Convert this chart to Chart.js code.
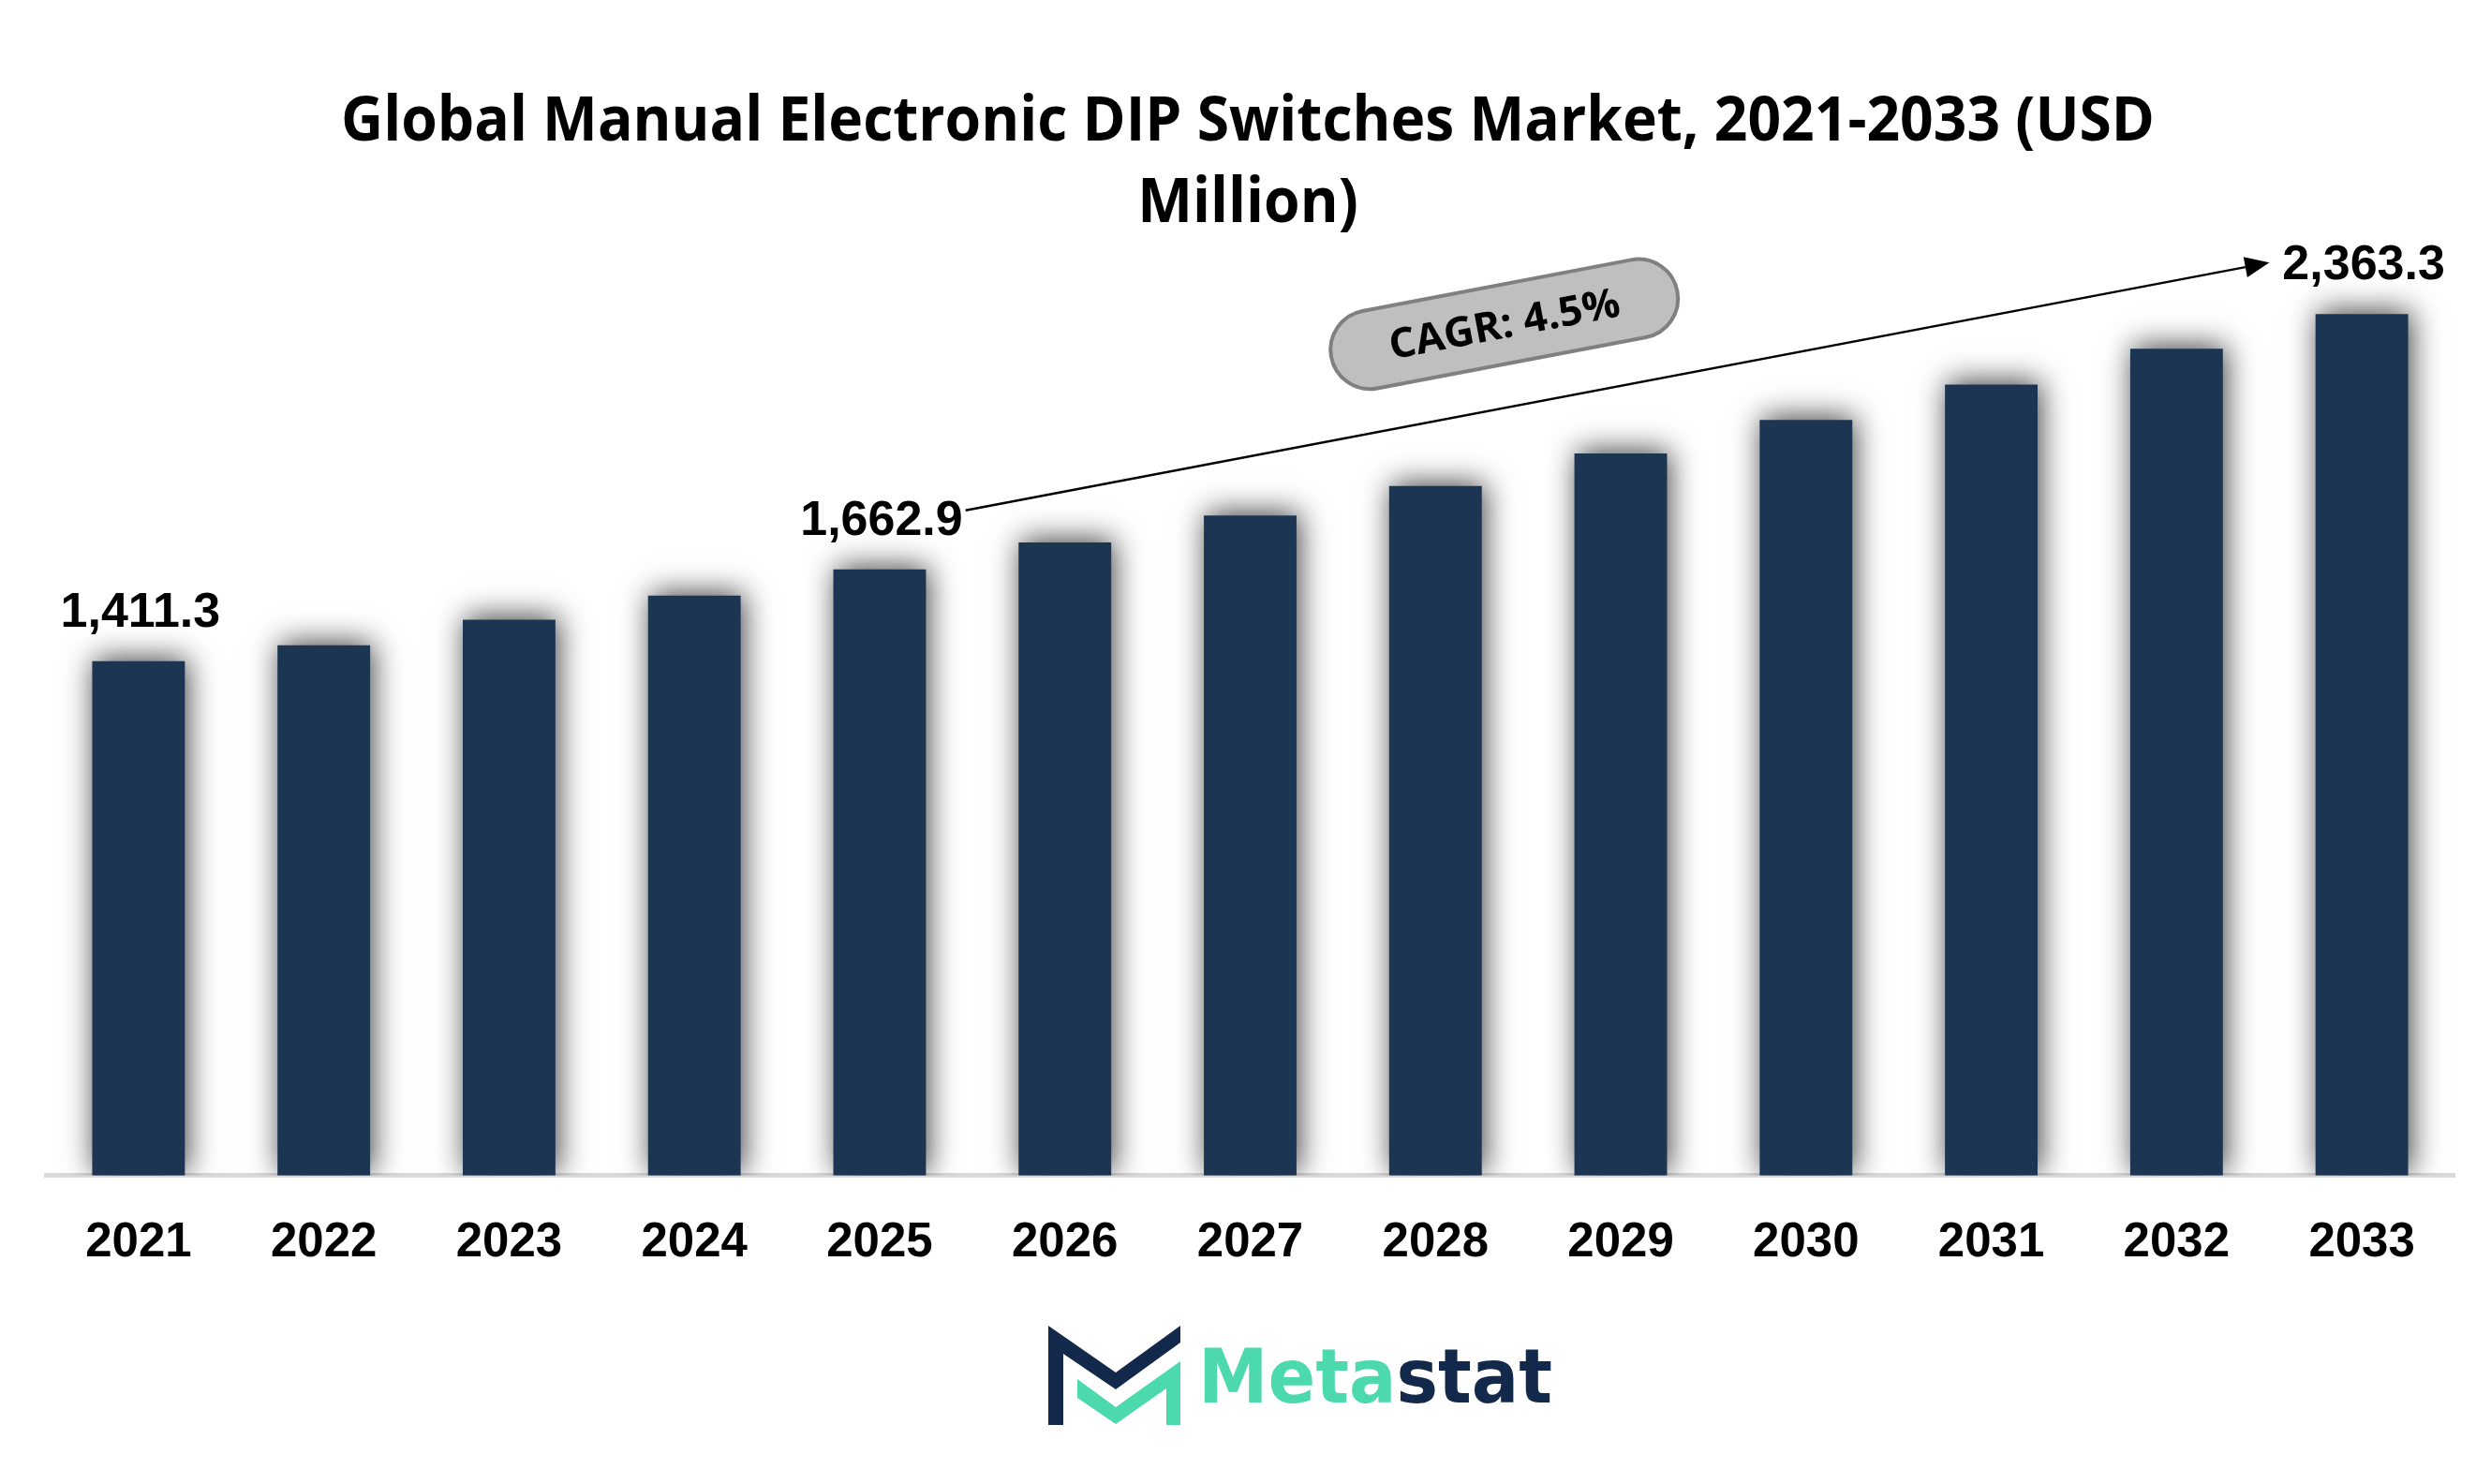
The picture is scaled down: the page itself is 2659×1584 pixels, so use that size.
<!DOCTYPE html>
<html>
<head>
<meta charset="utf-8">
<script src="https://cdn.jsdelivr.net/npm/chart.js@4.4.1/dist/chart.umd.min.js"></script>
<style>
  html, body { margin: 0; padding: 0; background: #fff; }
  canvas { display: block; }
</style>
</head>
<body>
<canvas id="marketChart" width="2659" height="1584"></canvas>
<script>
const years = ["2021", "2022", "2023", "2024", "2025", "2026", "2027", "2028", "2029", "2030", "2031", "2032", "2033"];
const marketValues = [1411.3, 1455, 1525, 1591, 1662.9, 1737, 1811, 1892, 1981, 2073, 2170, 2268, 2363.3];
const labelledYears = ["2021", "2025", "2033"];
const titleLines = ["Global Manual Electronic DIP Switches Market, 2021-2033 (USD", "Million)"];
const cagrText = "CAGR: 4.5%";
const arrowFrom = "2025";
const arrowTo = "2033";

const barColor = "#1b3552";
const logoGreen = "#4cd9ae";
const logoNavy = "#13294b";

const fmt = v => v.toLocaleString("en-US", { minimumFractionDigits: 1, maximumFractionDigits: 1 });

// text squeezed to a target width (the original uses a narrow face)
function fittedText(ctx, text, x, y, sx) {
  ctx.save();
  ctx.translate(x, y);
  ctx.scale(sx, 1);
  ctx.fillText(text, 0, 0);
  ctx.restore();
}

function poly(ctx, pts) {
  ctx.beginPath();
  pts.forEach((p, k) => k ? ctx.lineTo(p[0], p[1]) : ctx.moveTo(p[0], p[1]));
  ctx.closePath();
  ctx.fill();
}

const barShadow = {
  id: "barShadow",
  beforeDatasetsDraw(chart) {
    const ctx = chart.ctx;
    ctx.save();
    ctx.shadowColor = "rgba(0,0,0,0.75)";
    ctx.shadowBlur = 30;
    ctx.shadowOffsetX = 3;
    ctx.shadowOffsetY = -3;
  },
  afterDatasetsDraw(chart) {
    chart.ctx.restore();
  }
};

const decorations = {
  id: "decorations",
  afterDraw(chart) {
    const ctx = chart.ctx;
    const bars = chart.getDatasetMeta(0).data;

    // title
    ctx.save();
    ctx.fillStyle = "#000";
    ctx.font = "bold 67px 'Open Sans'";
    ctx.textAlign = "center";
    ctx.textBaseline = "alphabetic";
    const sx = 1936 / ctx.measureText(titleLines[0]).width;
    fittedText(ctx, titleLines[0], 1332, 150, sx);
    fittedText(ctx, titleLines[1], 1332, 237, sx);
    ctx.restore();

    // value labels
    ctx.save();
    ctx.fillStyle = "#000";
    ctx.font = "bold 52px 'Liberation Sans'";
    ctx.textAlign = "center";
    ctx.textBaseline = "alphabetic";
    const boxes = {};
    labelledYears.forEach(y => {
      const i = years.indexOf(y);
      const b = bars[i];
      const txt = fmt(marketValues[i]);
      const w = ctx.measureText(txt).width;
      ctx.fillText(txt, b.x + 2, b.y - 37);
      boxes[y] = { left: b.x + 2 - w / 2, right: b.x + 2 + w / 2, base: b.y - 37 };
    });
    ctx.restore();

    // growth arrow
    const a = boxes[arrowFrom], z = boxes[arrowTo];
    const x1 = a.right + 3, y1 = a.base - 26;
    const x2 = z.left - 14, y2 = z.base - 18;
    const ang = Math.atan2(y2 - y1, x2 - x1);
    const head = 26;
    ctx.save();
    ctx.strokeStyle = "#000";
    ctx.fillStyle = "#000";
    ctx.lineWidth = 2.5;
    ctx.beginPath();
    ctx.moveTo(x1, y1);
    ctx.lineTo(x2 - head * Math.cos(ang), y2 - head * Math.sin(ang));
    ctx.stroke();
    ctx.translate(x2, y2);
    ctx.rotate(ang);
    ctx.beginPath();
    ctx.moveTo(0, 0);
    ctx.lineTo(-head, -11);
    ctx.lineTo(-head, 11);
    ctx.closePath();
    ctx.fill();
    ctx.restore();

    // CAGR pill
    const t = 0.425;
    const px = x1 + (x2 - x1) * t + 88 * Math.sin(ang);
    const py = y1 + (y2 - y1) * t - 88 * Math.cos(ang);
    const L = 376, H = 84;
    ctx.save();
    ctx.translate(px, py);
    ctx.rotate(ang);
    ctx.beginPath();
    ctx.roundRect(-L / 2, -H / 2, L, H, H / 2);
    ctx.fillStyle = "#bfbfbf";
    ctx.fill();
    ctx.lineWidth = 4;
    ctx.strokeStyle = "#808080";
    ctx.stroke();
    ctx.fillStyle = "#000";
    ctx.font = "bold 44px 'Open Sans'";
    ctx.textAlign = "center";
    ctx.textBaseline = "middle";
    fittedText(ctx, cagrText, 0, 2, 250 / ctx.measureText(cagrText).width);
    ctx.restore();

    // logo
    ctx.save();
    ctx.fillStyle = logoNavy;
    poly(ctx, [[1119, 1415], [1191, 1465], [1260, 1415], [1260, 1433], [1191, 1483], [1135, 1445], [1135, 1521], [1119, 1521]]);
    ctx.fillStyle = logoGreen;
    poly(ctx, [[1150, 1472], [1191, 1502], [1260, 1453], [1260, 1521], [1245, 1521], [1245, 1482], [1191, 1520], [1150, 1492]]);
    ctx.font = "bold 80px 'DejaVu Sans'";
    ctx.textAlign = "left";
    ctx.textBaseline = "alphabetic";
    const lsx = 378 / ctx.measureText("Metastat").width;
    const wMeta = ctx.measureText("Meta").width;
    ctx.translate(1279, 1497);
    ctx.scale(lsx, 1);
    ctx.fillStyle = logoGreen;
    ctx.fillText("Meta", 0, 0);
    ctx.fillStyle = logoNavy;
    ctx.fillText("stat", wMeta, 0);
    ctx.restore();
  }
};

new Chart(document.getElementById("marketChart"), {
  type: "bar",
  data: {
    labels: years,
    datasets: [
      {
        label: "Market size",
        data: marketValues,
        backgroundColor: barColor,
        borderWidth: 0,
        barPercentage: 0.5,
        categoryPercentage: 1,
        clip: { left: 80, right: 80, top: 80, bottom: 0 },
      },
    ],
  },
  options: {
    responsive: false,
    animation: false,
    devicePixelRatio: 1,
    layout: {
      padding: { top: 321, left: 49, right: 39, bottom: 184 },
    },
    plugins: {
      legend: { display: false },
      title: { display: false },
      tooltip: { enabled: false },
    },
    scales: {
      x: {
        grid: { display: false, drawTicks: false },
        border: { display: true, color: "#d9d9d9", width: 5 },
        ticks: {
          color: "#000",
          padding: 42,
          maxRotation: 0,
          autoSkip: false,
          font: { family: "'Liberation Sans'", size: 51, weight: "bold" },
        },
      },
      y: {
        display: false,
        min: 0,
        max: 2400,
      },
    },
  },
  plugins: [barShadow, decorations],
});
</script>
</body>
</html>
